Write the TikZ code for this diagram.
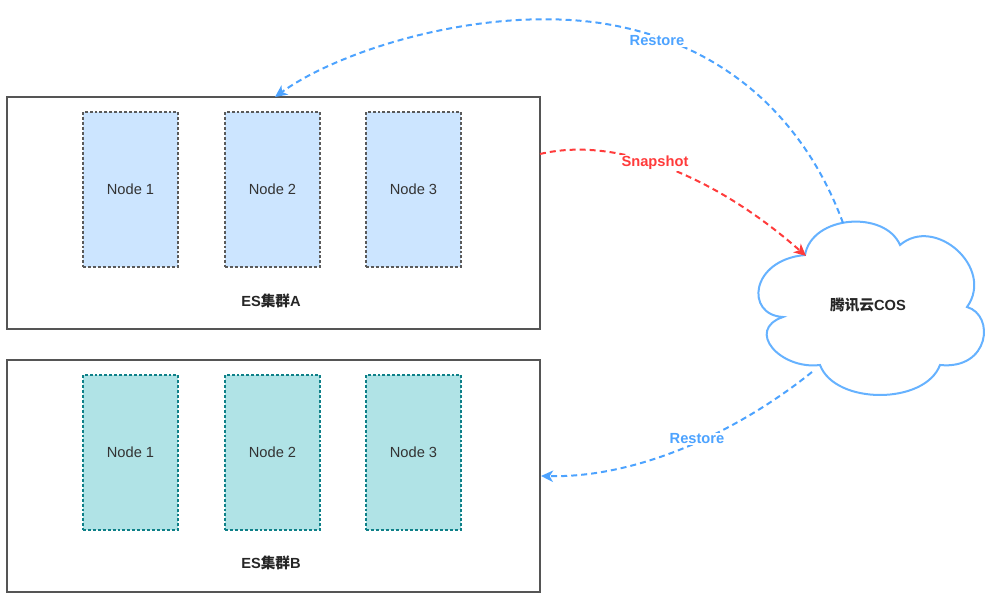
\documentclass[tikz,border=0pt]{standalone}
\usepackage{fontspec}
\setmainfont{Liberation Sans}
\newfontfamily\cjk{Noto Sans CJK SC}
\usetikzlibrary{arrows.meta}
\definecolor{blueline}{HTML}{4DA3FF}
\definecolor{cloudline}{HTML}{66B2FF}
\definecolor{redline}{HTML}{FF3B3B}
\definecolor{nodeAfill}{HTML}{CCE5FF}
\definecolor{nodeAdraw}{HTML}{5A5A5A}
\definecolor{nodeBfill}{HTML}{B0E3E6}
\definecolor{nodeBdraw}{HTML}{0E8088}
\definecolor{clusterdraw}{HTML}{555555}
\definecolor{txt}{HTML}{333333}
\tikzset{
  cluster/.style={draw=clusterdraw, line width=1.2pt, minimum width=399.75pt, minimum height=174pt, inner sep=0pt},
  esnodeA/.style={draw=nodeAdraw, fill=nodeAfill, line width=0.85pt, dash pattern=on 2.2pt off 1.5pt, minimum width=71.25pt, minimum height=116.25pt, inner sep=0pt, text=txt, font=\fontsize{11}{13}\selectfont},
  esnodeB/.style={esnodeA, draw=nodeBdraw, fill=nodeBfill},
  clabel/.style={font=\bfseries\fontsize{11}{13}\selectfont, text=black!85},
  flowlabel/.style={fill=white, inner sep=1pt, font=\bfseries\fontsize{11}{13}\selectfont},
  conn/.style={line width=1.5pt, dash pattern=on 4.5pt off 3pt, -{Stealth[length=9pt, width=8.5pt, inset=2.5pt]}},
}
\begin{document}
\begin{tikzpicture}[x=0.75pt, y=-0.75pt]
\useasboundingbox (0,0) rectangle (988,609);
% clusters
\node[cluster] (clusterA) at (273.5,213) {};
\node[cluster] (clusterB) at (273.5,476) {};
\node[esnodeA] (a1) at (130.5,189.5) {Node 1};
\node[esnodeA] (a2) at (272.5,189.5) {Node 2};
\node[esnodeA] (a3) at (413.5,189.5) {Node 3};
\node[esnodeB] (b1) at (130.5,452.5) {Node 1};
\node[esnodeB] (b2) at (272.5,452.5) {Node 2};
\node[esnodeB] (b3) at (413.5,452.5) {Node 3};
\node[clabel] (labA) at (271,301) {ES{\cjk\bfseries 集群}A};
\node[clabel] (labB) at (271,563) {ES{\cjk\bfseries 集群}B};
% cloud
\draw[cloudline, line width=1.5pt, fill=white]
  (805,255) .. controls (812,215) and (885,210) .. (900,245)
  .. controls (935,215) and (995,268) .. (967,307)
  .. controls (995,315) and (990,370) .. (940,365)
  .. controls (925,405) and (835,405) .. (820,365)
  .. controls (780,370) and (745,330) .. (783,317)
  .. controls (745,315) and (750,260) .. (805,255) -- cycle;
\node[clabel] (cos) at (868,305) {{\cjk\bfseries 腾讯云}COS};
\coordinate (cloudTop) at (843,223);
\coordinate (cloudLeft) at (806,256);
\coordinate (cloudBottom) at (812,372);
\coordinate (aTop) at (275,97);
\coordinate (aRight) at (540,154);
\coordinate (bRight) at (541,476);
% connectors
\draw[conn, blueline] (cloudTop) .. controls (805,120) and (725,42) .. (600,23)
  .. controls (480,6) and (340,50) .. (aTop);
\draw[conn, redline] (aRight) .. controls (620,135) and (720,180) .. (cloudLeft);
\draw[conn, blueline] (cloudBottom) .. controls (740,430) and (640,478) .. (bRight);
% labels
\node[flowlabel, text=blueline] (r1) at (657,41) {Restore};
\node[flowlabel, text=redline] (s1) at (655,163) {Snapshot};
\node[flowlabel, text=blueline] (r2) at (697,439) {Restore};
\end{tikzpicture}
\end{document}
